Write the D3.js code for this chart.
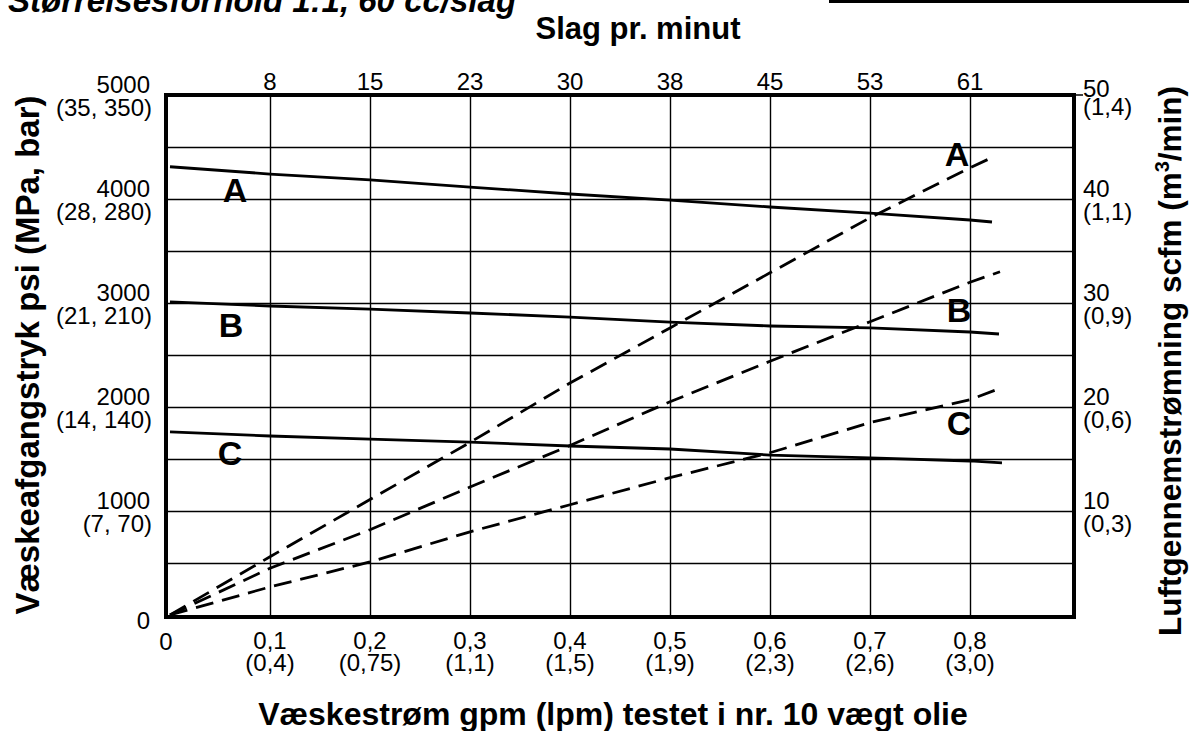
<!DOCTYPE html>
<html>
<head>
<meta charset="utf-8">
<script src="https://cdn.jsdelivr.net/npm/d3@7"></script>
<style>
  html, body { margin: 0; padding: 0; background: #fff; }
  svg { display: block; }
  text { font-family: "Liberation Sans", Arial, Helvetica, sans-serif; fill: #000; }
</style>
</head>
<body>
<svg id="chart" width="1189" height="731"></svg>
<script>
// ---------- data ----------
const gpmTicks   = [0.1, 0.2, 0.3, 0.4, 0.5, 0.6, 0.7, 0.8];
const gpmLabels  = ["0,1", "0,2", "0,3", "0,4", "0,5", "0,6", "0,7", "0,8"];
const lpmLabels  = ["(0,4)", "(0,75)", "(1,1)", "(1,5)", "(1,9)", "(2,3)", "(2,6)", "(3,0)"];
const strokeLabels = ["8", "15", "23", "30", "38", "45", "53", "61"];

const psiTicks   = [1000, 2000, 3000, 4000, 5000];
const psiLabels  = ["1000", "2000", "3000", "4000", "5000"];
const mpaLabels  = ["(7, 70)", "(14, 140)", "(21, 210)", "(28, 280)", "(35, 350)"];
const psiGrid    = [500, 1000, 1500, 2000, 2500, 3000, 3500, 4000, 4500];

const scfmTicks  = [10, 20, 30, 40, 50];
const scfmLabels = ["10", "20", "30", "40", "50"];
const m3Labels   = ["(0,3)", "(0,6)", "(0,9)", "(1,1)", "(1,4)"];

// fluid pressure curves (psi) - solid
const pressA_gpm = [0, 0.1, 0.2, 0.3, 0.4, 0.5, 0.6, 0.7, 0.8, 0.822];
const pressA_psi = [4310, 4240, 4183, 4115, 4048, 3990, 3923, 3865, 3798, 3779];
const pressB_gpm = [0, 0.1, 0.2, 0.3, 0.4, 0.5, 0.6, 0.7, 0.8, 0.829];
const pressB_psi = [3010, 2971, 2942, 2904, 2865, 2817, 2779, 2760, 2721, 2702];
const pressC_gpm = [0, 0.1, 0.2, 0.3, 0.4, 0.5, 0.6, 0.7, 0.8, 0.832];
const pressC_psi = [1760, 1721, 1692, 1663, 1625, 1596, 1538, 1510, 1481, 1462];

// air consumption curves (scfm) - dashed
const airA_gpm  = [0, 0.1, 0.2, 0.3, 0.4, 0.5, 0.6, 0.7, 0.8, 0.82];
const airA_scfm = [0, 5.6, 11.1, 16.6, 22.3, 27.6, 32.9, 38.2, 43.0, 43.9];
const airB_gpm  = [0, 0.1, 0.2, 0.3, 0.4, 0.5, 0.6, 0.7, 0.8, 0.83];
const airB_scfm = [0, 4.5, 8.2, 12.3, 16.3, 20.5, 24.4, 28.2, 32.0, 33.0];
const airC_gpm  = [0, 0.1, 0.2, 0.3, 0.4, 0.5, 0.6, 0.7, 0.8, 0.833];
const airC_scfm = [0, 2.7, 5.1, 8.0, 10.6, 13.2, 15.6, 18.5, 20.7, 21.9];

// curve letter labels
const curveLabelNames = ["A", "B", "C", "A", "B", "C"];
const curveLabelGpm   = [0.065, 0.061, 0.060, 0.787, 0.789, 0.789];
const curveLabelPsi   = [4087, 2788, 1558, 4433, 2933, 1846];

// ---------- drawing ----------
const svg = d3.select("#chart");
const x = d3.scaleLinear().domain([0, 0.9]).range([170, 1070]);
const yP = d3.scaleLinear().domain([0, 5000]).range([615, 95]);
const yA = d3.scaleLinear().domain([0, 50]).range([615, 95]);

const fTop = yP(5000), fBottom = yP(0) + 2, fLeft = x(0) - 4, fRight = x(0.9) + 4;

// grid: vertical
svg.append("g")
  .attr("transform", `translate(0,${fBottom})`)
  .call(d3.axisBottom(x).tickValues(gpmTicks).tickSize(-(fBottom - fTop)).tickFormat(""))
  .call(g => g.select(".domain").remove())
  .call(g => g.selectAll("line").attr("stroke", "#000").attr("stroke-width", 1.4));

// grid: horizontal
svg.append("g")
  .attr("transform", `translate(${fLeft},0)`)
  .call(d3.axisLeft(yP).tickValues(psiGrid).tickSize(-(fRight - fLeft)).tickFormat(""))
  .call(g => g.select(".domain").remove())
  .call(g => g.selectAll("line").attr("stroke", "#000").attr("stroke-width", 1.6));

// frame
svg.append("rect")
  .attr("x", fLeft).attr("y", fTop).attr("width", fRight - fLeft).attr("height", fBottom - fTop)
  .attr("fill", "none").attr("stroke", "#000").attr("stroke-width", 4);

// top-right 50 tick
svg.append("line")
  .attr("x1", fRight).attr("x2", fRight + 9).attr("y1", yA(50)).attr("y2", yA(50))
  .attr("stroke", "#000").attr("stroke-width", 1.5);

// curves
function series(gpm, vals) { return gpm.map((g, i) => [g, vals[i]]); }
const lineP = d3.line().x(d => x(d[0])).y(d => yP(d[1]));
const lineA = d3.line().x(d => x(d[0])).y(d => yA(d[1]));

[[pressA_gpm, pressA_psi], [pressB_gpm, pressB_psi], [pressC_gpm, pressC_psi]].forEach(([g, v]) => {
  svg.append("path").attr("d", lineP(series(g, v)))
    .attr("fill", "none").attr("stroke", "#000").attr("stroke-width", 2.8);
});
[[airA_gpm, airA_scfm], [airB_gpm, airB_scfm], [airC_gpm, airC_scfm]].forEach(([g, v]) => {
  svg.append("path").attr("d", lineA(series(g, v)))
    .attr("fill", "none").attr("stroke", "#000").attr("stroke-width", 2.8)
    .attr("stroke-dasharray", "18,9");
});

// curve letters
svg.selectAll("text.curve").data(curveLabelNames).join("text")
  .attr("class", "curve")
  .attr("x", (d, i) => x(curveLabelGpm[i]))
  .attr("y", (d, i) => yP(curveLabelPsi[i]))
  .attr("dy", "0.36em")
  .attr("text-anchor", "middle")
  .attr("font-size", 34).attr("font-weight", "bold")
  .text(d => d);

// bottom tick labels
const tickFS = 24;
svg.append("text").attr("x", x(0) - 4).attr("y", 650).attr("text-anchor", "middle")
  .attr("font-size", tickFS).text("0");
svg.selectAll("text.gpm").data(gpmLabels).join("text").attr("class", "gpm")
  .attr("x", (d, i) => x(gpmTicks[i])).attr("y", 649)
  .attr("text-anchor", "middle").attr("font-size", tickFS).text(d => d);
svg.selectAll("text.lpm").data(lpmLabels).join("text").attr("class", "lpm")
  .attr("x", (d, i) => x(gpmTicks[i])).attr("y", 671)
  .attr("text-anchor", "middle").attr("font-size", tickFS).text(d => d);

// top tick labels
svg.selectAll("text.spm").data(strokeLabels).join("text").attr("class", "spm")
  .attr("x", (d, i) => x(gpmTicks[i])).attr("y", 90)
  .attr("text-anchor", "middle").attr("font-size", tickFS).text(d => d);

// left tick labels
svg.append("text").attr("x", 150).attr("y", yP(0) + 14).attr("text-anchor", "end")
  .attr("font-size", tickFS).text("0");
svg.selectAll("text.psi").data(psiLabels).join("text").attr("class", "psi")
  .attr("x", 150).attr("y", (d, i) => yP(psiTicks[i]) - 2)
  .attr("text-anchor", "end").attr("font-size", tickFS).text(d => d);
svg.selectAll("text.mpa").data(mpaLabels).join("text").attr("class", "mpa")
  .attr("x", 152).attr("y", (d, i) => yP(psiTicks[i]) + 21)
  .attr("text-anchor", "end").attr("font-size", tickFS).text(d => d);

// right tick labels
svg.selectAll("text.scfm").data(scfmLabels).join("text").attr("class", "scfm")
  .attr("x", 1083).attr("y", (d, i) => yA(scfmTicks[i]) + (scfmTicks[i] === 50 ? 2 : -2))
  .attr("text-anchor", "start").attr("font-size", tickFS).text(d => d);
svg.selectAll("text.m3").data(m3Labels).join("text").attr("class", "m3")
  .attr("x", 1083).attr("y", (d, i) => yA(scfmTicks[i]) + (scfmTicks[i] === 50 ? 20 : 21))
  .attr("text-anchor", "start").attr("font-size", tickFS).text(d => d);

// axis titles
svg.append("text").attr("x", 638).attr("y", 39).attr("text-anchor", "middle")
  .attr("font-size", 31).attr("font-weight", "bold").text("Slag pr. minut");
svg.append("text").attr("x", 613).attr("y", 725).attr("text-anchor", "middle")
  .attr("font-size", 32).attr("font-weight", "bold").text("Væskestrøm gpm (lpm) testet i nr. 10 vægt olie");
svg.append("text").attr("transform", "translate(39,355) rotate(-90)").attr("text-anchor", "middle")
  .attr("font-size", 33).attr("font-weight", "bold").text("Væskeafgangstryk psi (MPa, bar)");
const rt = svg.append("text").attr("transform", "translate(1181,361) rotate(-90)").attr("text-anchor", "middle")
  .attr("font-size", 31.5).attr("font-weight", "bold");
rt.append("tspan").text("Luftgennemstrømning scfm (m");
rt.append("tspan").attr("dy", -12).attr("font-size", 20).text("3");
rt.append("tspan").attr("dy", 12).text("/min)");

// clipped header (top-left) and rule (top-right)
svg.append("text").attr("x", 8).attr("y", 12)
  .attr("font-size", 33).attr("font-weight", "bold").attr("font-style", "italic")
  .text("Størrelsesforhold 1:1, 60 cc/slag");
svg.append("rect").attr("x", 829).attr("y", 0).attr("width", 360).attr("height", 3).attr("fill", "#000");
</script>
</body>
</html>
